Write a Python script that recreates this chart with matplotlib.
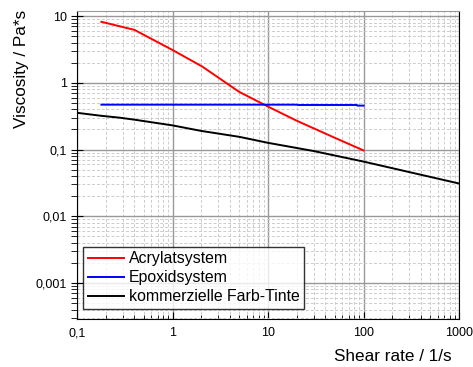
import numpy as np
import matplotlib.pyplot as plt
from matplotlib.ticker import FuncFormatter, LogLocator, NullFormatter

plt.rcParams['font.family'] = ['Liberation Sans', 'DejaVu Sans']

# Acrylatsystem (red)
acr_x = [0.18, 0.4, 1.0, 2.05, 5.0, 10.0, 20.0, 50.0, 100.0]
acr_y = [8.2, 6.2, 3.1, 1.75, 0.73, 0.44, 0.27, 0.15, 0.097]
# Epoxidsystem (blue)
epo_x = [0.18, 1.0, 10.0, 20.0, 20.5, 85.0, 86.0, 100.0]
epo_y = [0.47, 0.47, 0.47, 0.47, 0.465, 0.465, 0.455, 0.455]
# kommerzielle Farb-Tinte (black)
ink_x = [0.1, 0.18, 0.28, 0.4, 1.0, 2.0, 5.0, 10.0, 30.0, 100.0, 300.0, 1000.0]
ink_y = [0.355, 0.32, 0.30, 0.28, 0.23, 0.19, 0.155, 0.126, 0.095, 0.066, 0.046, 0.031]

labels = ['Acrylatsystem', 'Epoxidsystem', 'kommerzielle Farb-Tinte']


def fmt(v, pos):
    # german decimal comma
    return ('%g' % v).replace('.', ',')


fig = plt.figure(figsize=(4.73, 3.67), dpi=100)
ax = fig.add_axes([77 / 473, 1 - 319 / 367, 382 / 473, 308 / 367])

ax.plot(acr_x, acr_y, color='#ff0000', lw=1.4, label=labels[0])
ax.plot(epo_x, epo_y, color='#0000ff', lw=1.4, label=labels[1])
ax.plot(ink_x, ink_y, color='#000000', lw=1.4, label=labels[2])

ax.set_xscale('log')
ax.set_yscale('log')
ax.set_xlim(0.1, 1000)
ax.set_ylim(2.89e-4, 11.9)

ax.xaxis.set_major_locator(LogLocator(base=10, numticks=10))
ax.xaxis.set_minor_locator(LogLocator(base=10, subs=np.arange(2, 10), numticks=20))
ax.yaxis.set_major_locator(LogLocator(base=10, numticks=10))
ax.yaxis.set_minor_locator(LogLocator(base=10, subs=np.arange(2, 10), numticks=20))
ax.xaxis.set_major_formatter(FuncFormatter(fmt))
ax.yaxis.set_major_formatter(FuncFormatter(fmt))
ax.xaxis.set_minor_formatter(NullFormatter())
ax.yaxis.set_minor_formatter(NullFormatter())

ax.grid(True, which='major', color='#999999', lw=1.0, ls='-')
ax.grid(True, which='minor', color='#cccccc', lw=0.7, ls=(0, (3, 2)))
ax.set_axisbelow(True)

ax.tick_params(axis='x', which='both', direction='in', labelsize=9, pad=6)
ax.tick_params(axis='x', which='major', length=5)
ax.tick_params(axis='x', which='minor', length=3)
ax.tick_params(axis='y', which='major', direction='inout', length=8, labelsize=9)
ax.tick_params(axis='y', which='minor', direction='out', length=4)

ax.spines['top'].set_color('#999999')
for s in ['left', 'bottom', 'right']:
    ax.spines[s].set_color('black')

ax.set_ylabel('Viscosity / Pa*s', fontsize=12.3, ha='right')
ax.yaxis.set_label_coords(-0.125, 1.003)
ax.set_xlabel('Shear rate / 1/s', fontsize=12.3, ha='right', va='top')
ax.xaxis.set_label_coords(0.982, -0.097)

leg = ax.legend(loc='lower left', bbox_to_anchor=(6 / 382, 10 / 308), fontsize=11.4,
                frameon=True, fancybox=False, handlelength=2.3, borderpad=0.3,
                labelspacing=0.25, handletextpad=0.3, borderaxespad=0)
leg.get_frame().set_edgecolor('black')
leg.get_frame().set_linewidth(1.0)

fig.savefig('out.png', dpi=100)
